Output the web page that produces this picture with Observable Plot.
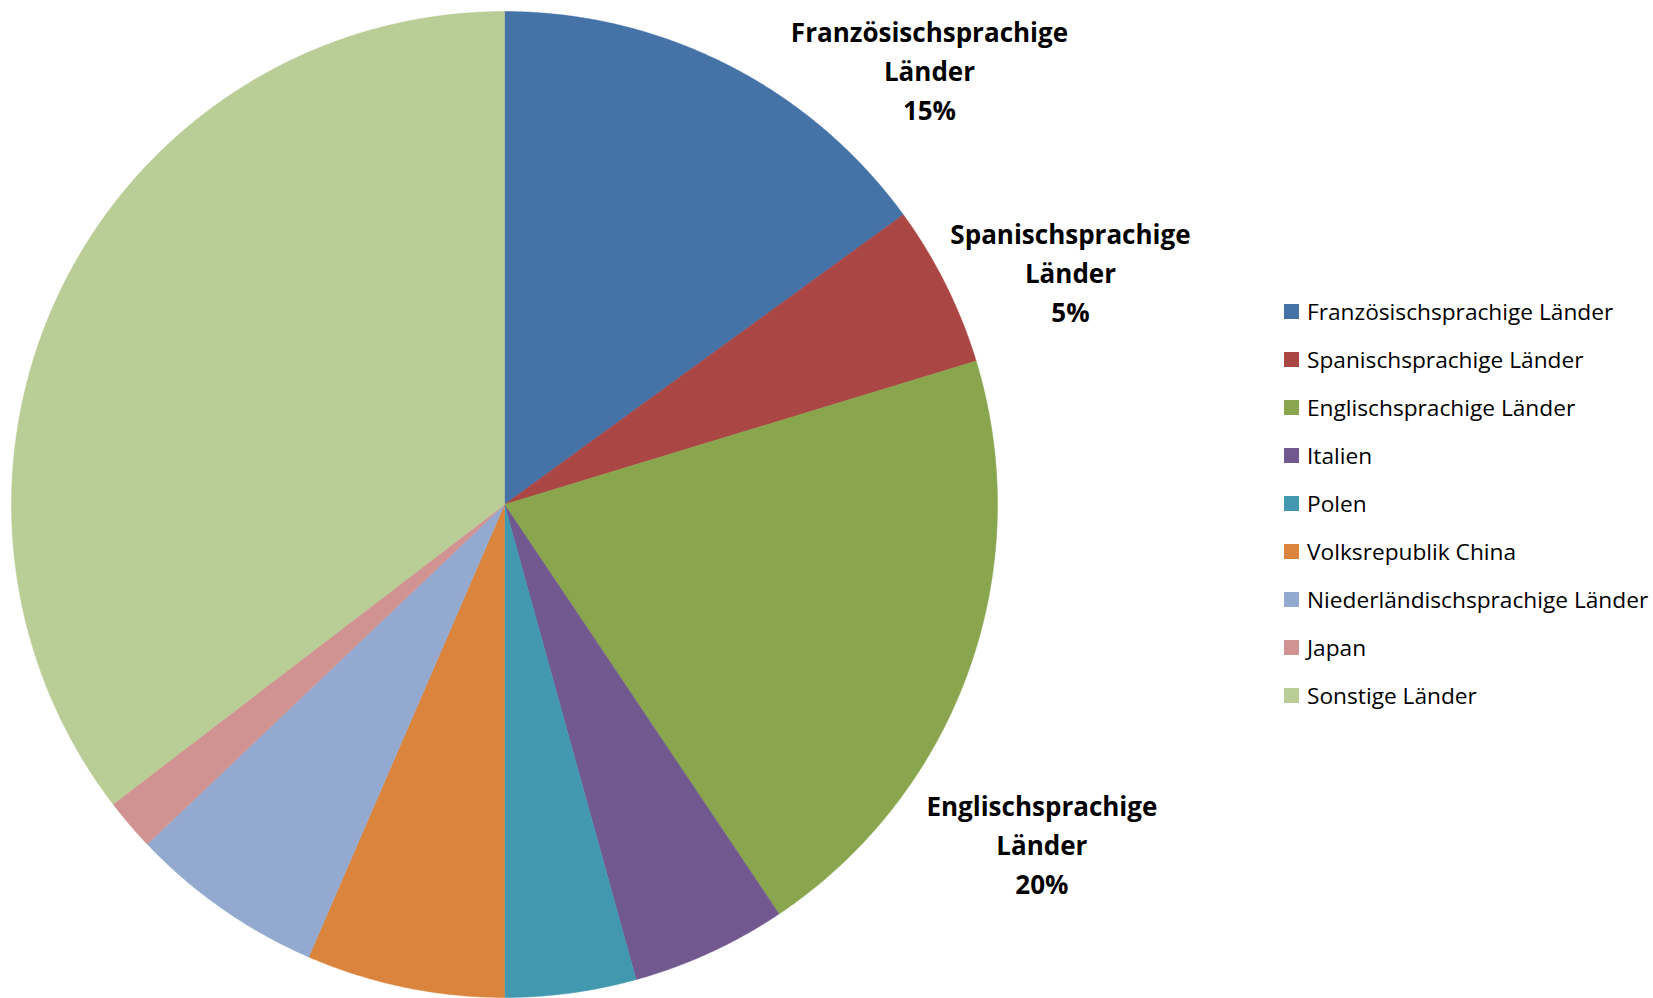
<!DOCTYPE html>
<html>
<head>
<meta charset="utf-8">
<script src="https://cdn.jsdelivr.net/npm/d3@7"></script>
<script src="https://cdn.jsdelivr.net/npm/@observablehq/plot@0.6"></script>
<style>
  html, body { margin: 0; padding: 0; background: #fff; }
  #wrap { position: relative; width: 1653px; height: 998px; overflow: hidden; }
  #legend { position: absolute; left: 1284px; top: 287px; font-family: "Open Sans", sans-serif; font-size: 22.7px; color: #000; }
  .item { display: flex; align-items: center; height: 48.1px; white-space: nowrap; }
  .sw { width: 15px; height: 15px; margin-right: 8px; flex: none; }
</style>
</head>
<body>
<div id="wrap"><div id="chart"></div><div id="legend"></div></div>
<script>
// Data
const categories = [
  "Französischsprachige Länder",
  "Spanischsprachige Länder",
  "Englischsprachige Länder",
  "Italien",
  "Polen",
  "Volksrepublik China",
  "Niederländischsprachige Länder",
  "Japan",
  "Sonstige Länder"
];
const shares = [15.0, 5.3, 20.3, 5.1, 4.3, 6.5, 6.4, 1.7, 35.4];
const labelledLines = {
  "Französischsprachige Länder": ["Französischsprachige", "Länder"],
  "Spanischsprachige Länder": ["Spanischsprachige", "Länder"],
  "Englischsprachige Länder": ["Englischsprachige", "Länder"]
};
const colors = ["#4572A7", "#AA4643", "#89A54E", "#71588F", "#4198AF", "#DB843D", "#93A9CF", "#D19392", "#B9CD96"];

// Layout (not data)
const W = 1653, H = 998, CX = 504, CY = 504, R = 493;
const labelAnchor = {
  "Französischsprachige Länder": [0.862, 0.877],
  "Spanischsprachige Länder": [1.148, 0.466],
  "Englischsprachige Länder": [1.09, -0.693]
};

const data = categories.map((c, i) => ({name: c, value: shares[i]}));
const arcs = d3.pie().sort(null).value(d => d.value)(data);
const pts = [];
for (const a of arcs) {
  const n = Math.max(2, Math.ceil((a.endAngle - a.startAngle) / 0.005));
  pts.push({name: a.data.name, x: 0, y: 0});
  for (let k = 0; k <= n; k++) {
    const t = a.startAngle + (a.endAngle - a.startAngle) * k / n;
    pts.push({name: a.data.name, x: Math.sin(t), y: Math.cos(t)});
  }
  pts.push({name: a.data.name, x: 0, y: 0});
}
const labels = arcs.filter(a => labelledLines[a.data.name]).map(a => ({
  name: a.data.name,
  text: labelledLines[a.data.name].join("\n") + "\n" + Math.round(a.data.value) + "%",
  x: labelAnchor[a.data.name][0],
  y: labelAnchor[a.data.name][1]
}));

const chart = Plot.plot({
  width: W, height: H,
  margin: 0,
  x: {domain: [-1, 1], range: [CX - R, CX + R], axis: null},
  y: {domain: [-1, 1], range: [CY + R, CY - R], axis: null},
  color: {domain: categories, range: colors},
  style: {background: "#fff", overflow: "visible"},
  marks: [
    Plot.line(pts, {x: "x", y: "y", z: "name", fill: "name", stroke: "name", strokeWidth: 0.5, curve: "linear"}),
    Plot.text(labels, {x: "x", y: "y", dy: -4, text: "text", fontSize: 26, fontWeight: "bold", lineHeight: 1.5, fill: "#000", fontFamily: "'Open Sans', sans-serif", lineAnchor: "middle"})
  ]
});
document.getElementById("chart").appendChild(chart);

const leg = document.getElementById("legend");
categories.forEach((c, i) => {
  const it = document.createElement("div");
  it.className = "item";
  const sw = document.createElement("span");
  sw.className = "sw";
  sw.style.background = colors[i];
  const tx = document.createElement("span");
  tx.textContent = c;
  it.appendChild(sw); it.appendChild(tx);
  leg.appendChild(it);
});
</script>
</body>
</html>
